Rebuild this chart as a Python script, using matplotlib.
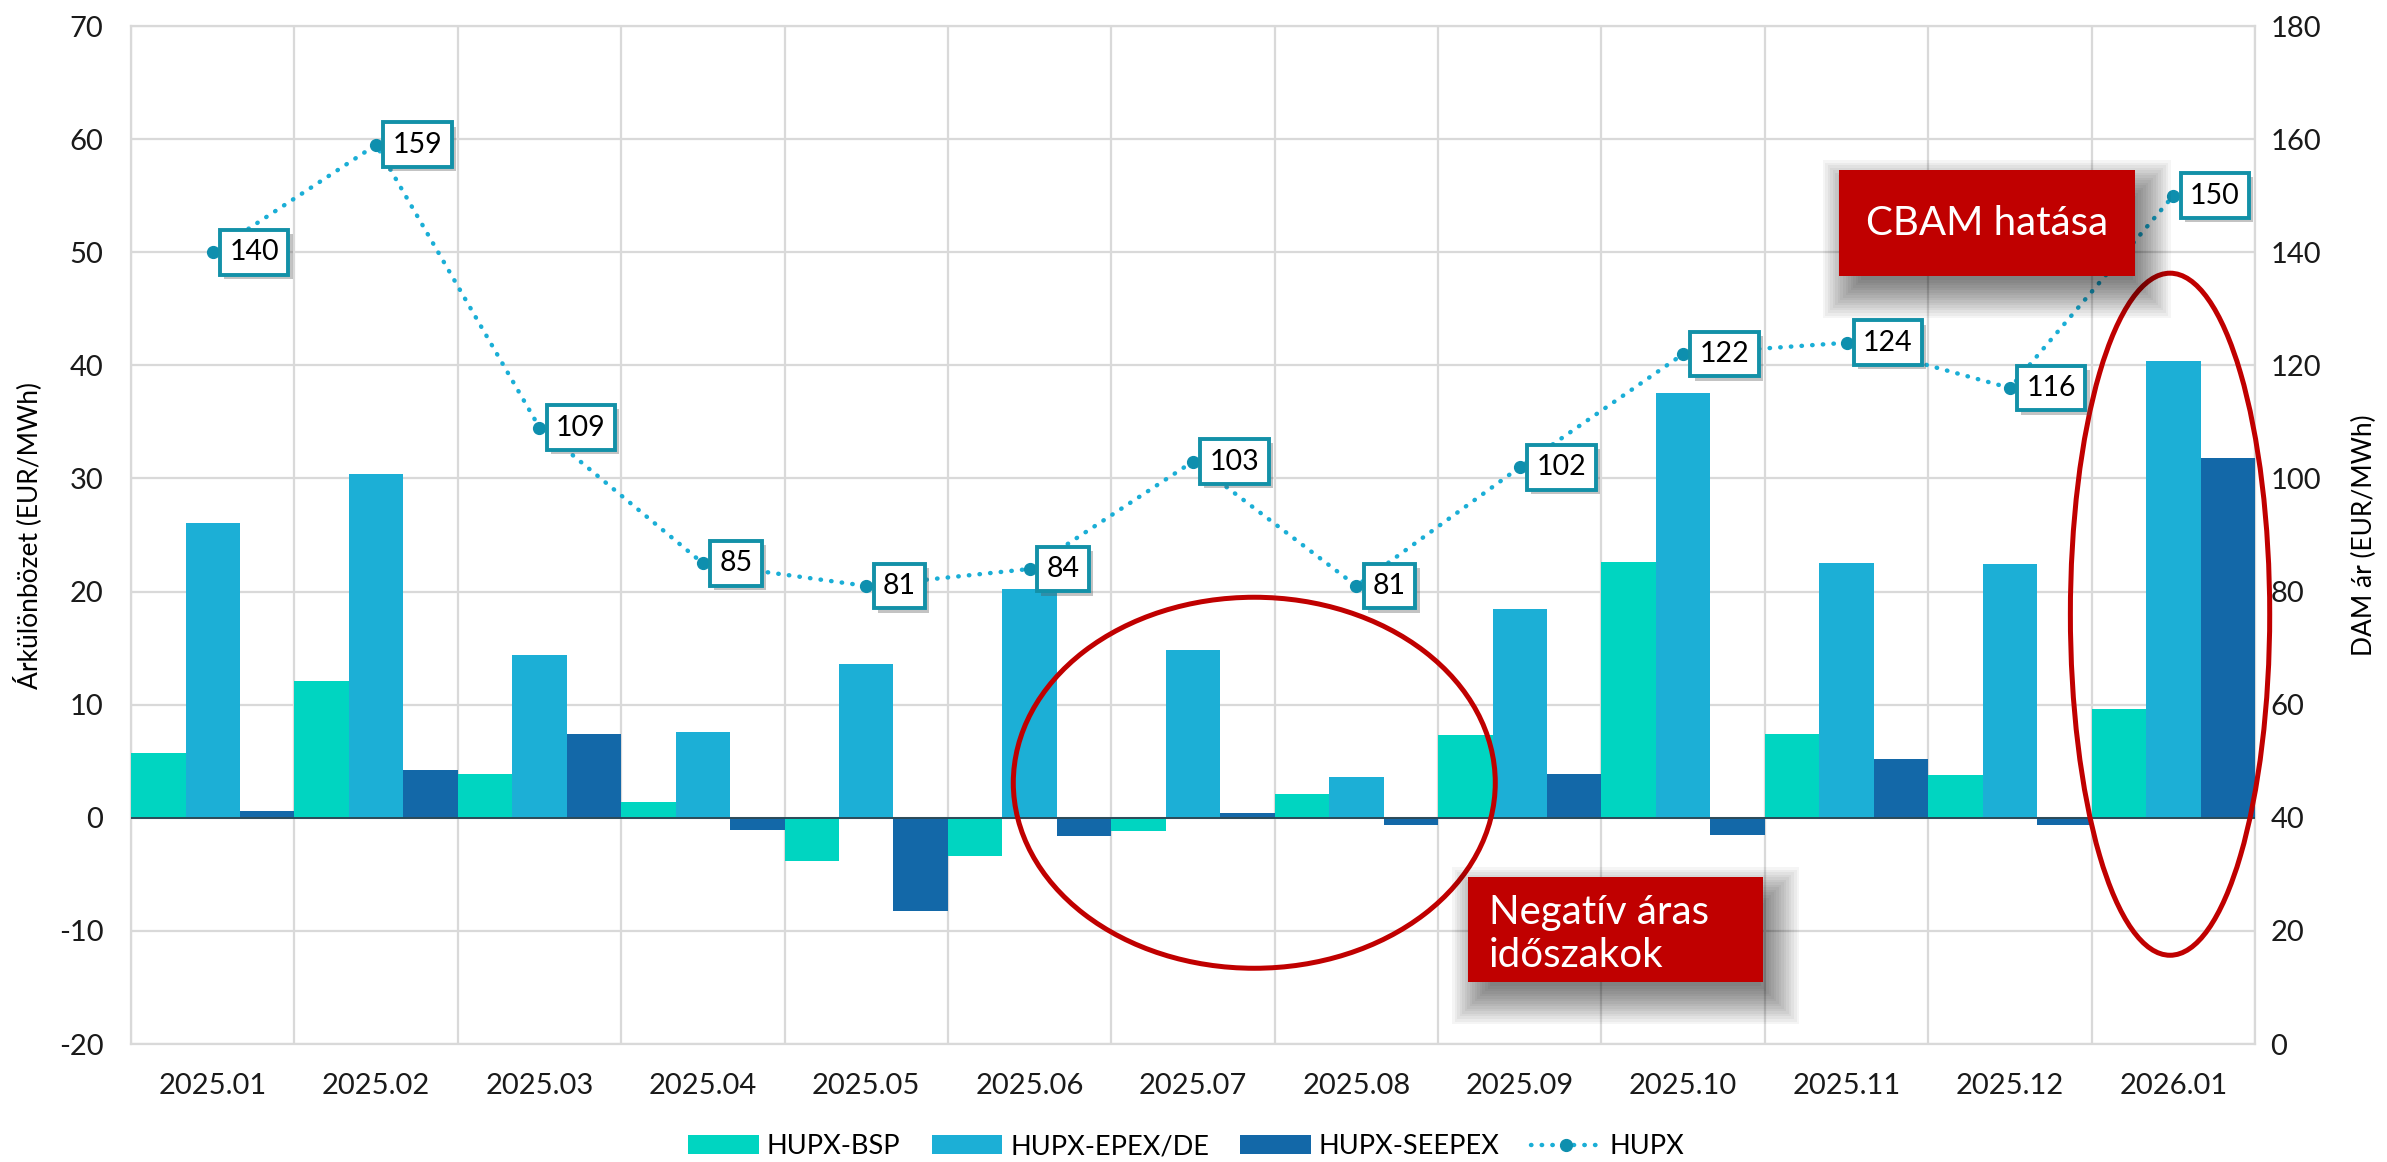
import numpy as np
import matplotlib.pyplot as plt
from matplotlib.patches import Ellipse, Rectangle
import matplotlib.patheffects as pe

plt.rcParams['font.family'] = ['Lato', 'DejaVu Sans']
plt.rcParams['axes.unicode_minus'] = False

# --- Data ---
months = ["2025.01", "2025.02", "2025.03", "2025.04", "2025.05", "2025.06", "2025.07",
          "2025.08", "2025.09", "2025.10", "2025.11", "2025.12", "2026.01"]
hupx_bsp = [5.7, 12.1, 3.9, 1.4, -3.8, -3.4, -1.2, 2.1, 7.3, 22.6, 7.4, 3.8, 9.6]
hupx_epex = [26.1, 30.4, 14.4, 7.6, 13.6, 20.2, 14.8, 3.6, 18.5, 37.6, 22.5, 22.4, 40.4]
hupx_seepex = [0.6, 4.2, 7.4, -1.1, -8.2, -1.6, 0.4, -0.6, 3.9, -1.5, 5.2, -0.6, 31.8]
hupx_dam = [140, 159, 109, 85, 81, 84, 103, 81, 102, 122, 124, 116, 150]

# --- Styles ---
c_bsp = '#00d5c1'
c_epex = '#1cafd6'
c_seepex = '#1368a8'
c_line = '#1aaed6'
c_marker = '#0e8fae'
c_box = '#1391a8'
c_red = '#c00000'
grid_c = '#d9d9d9'

fig = plt.figure(figsize=(23.87, 11.62), dpi=100)
ax = fig.add_axes([0.0549, 0.1015, 0.8898, 0.8761])
x = np.arange(len(months))
w = 1 / 3

ax.bar(x - w, hupx_bsp, w, color=c_bsp, label='HUPX-BSP', zorder=3)
ax.bar(x, hupx_epex, w, color=c_epex, label='HUPX-EPEX/DE', zorder=3)
ax.bar(x + w, hupx_seepex, w, color=c_seepex, label='HUPX-SEEPEX', zorder=3)
ax.axhline(0, color='#2b4a58', lw=1.4, zorder=4)

ax.set_xlim(-0.5, len(months) - 0.5)
ax.set_ylim(-20, 70)
ax.set_yticks(range(-20, 71, 10))
ax.set_xticks(x)
ax.set_xticklabels(months)
ax.set_xticks(np.arange(-0.5, len(months)), minor=True)
ax.grid(True, which='minor', axis='x', color=grid_c, lw=1.6, zorder=0)
ax.grid(True, which='major', axis='y', color=grid_c, lw=1.6, zorder=0)
ax.tick_params(axis='both', which='both', length=0, labelsize=21, colors='#1a1a1a')
ax.tick_params(axis='y', pad=20)
ax.tick_params(axis='x', pad=21)
for s in ax.spines.values():
    s.set_color(grid_c)
    s.set_linewidth(1.6)
ax.set_ylabel('Árkülönbözet (EUR/MWh)', fontsize=19, labelpad=12)

# --- Right axis: HUPX price ---
ax2 = ax.twinx()
ax2.set_ylim(0, 180)
ax2.set_yticks(range(0, 181, 20))
ax2.tick_params(axis='y', length=0, labelsize=21, colors='#1a1a1a', pad=11)
for s in ax2.spines.values():
    s.set_visible(False)
ax2.set_ylabel('DAM ár (EUR/MWh)', fontsize=19, labelpad=22)

line, = ax2.plot(x, hupx_dam, color=c_line, lw=3.2, linestyle=(0, (0.1, 2.3)),
                 dash_capstyle='round', marker='o', markersize=8.5,
                 markerfacecolor=c_marker, markeredgecolor=c_marker,
                 label='HUPX', zorder=5)

for xi, v in zip(x, hupx_dam):
    t = ax2.annotate(f'{v}', (xi, v), xytext=(12, 0), textcoords='offset points',
                     ha='left', va='center', fontsize=20.5, color='black', zorder=8,
                     bbox=dict(boxstyle='square,pad=0.33', fc='white', ec=c_box, lw=2.8))
    t.get_bbox_patch().set_path_effects([
        pe.SimplePatchShadow(offset=(3, -3), shadow_rgbFace='#555555', alpha=0.35),
        pe.Normal()])

# --- Highlight ellipses ---
ax2.add_patch(Ellipse((6.375, 3.1), 2.95, 32.8, transform=ax.transData, fill=False,
                      ec=c_red, lw=3.6, zorder=6, clip_on=False))
ax2.add_patch(Ellipse((11.98, 18.0), 1.22, 60.3, transform=ax.transData, fill=False,
                      ec=c_red, lw=3.6, zorder=6, clip_on=False))

# --- Red callout boxes with soft shadow ---
axw, axh = 2124.0, 1018.0  # axes size in px


def callout(x0, y0, x1, y1, zbase):
    dx, dy = 10 / axw, -16 / axh
    for e in np.linspace(-12, 26, 16):
        ex, ey = e / axw, e / axh
        ax2.add_patch(Rectangle((x0 + dx - ex, y0 + dy - ey), (x1 - x0) + 2 * ex,
                                (y1 - y0) + 2 * ey, transform=ax2.transAxes,
                                fc='black', ec='none', alpha=0.04, zorder=zbase,
                                clip_on=False))
    ax2.add_patch(Rectangle((x0, y0), x1 - x0, y1 - y0, transform=ax2.transAxes,
                            fc=c_red, ec='none', zorder=zbase + 0.1, clip_on=False))


callout(0.804, 0.7544, 0.9435, 0.8585, 9)
ax2.text((0.804 + 0.9435) / 2, (0.7544 + 0.8585) / 2, 'CBAM hatása', transform=ax2.transAxes,
         ha='center', va='center', fontsize=29, color='white', zorder=9.5)

callout(0.6295, 0.0609, 0.7684, 0.164, 9)
ax2.text(0.6394, (0.0609 + 0.164) / 2 - 0.004, 'Negatív áras\nidőszakok', transform=ax2.transAxes,
         ha='left', va='center', fontsize=29, color='white', zorder=9.5, linespacing=1.2)

# --- Legend ---
handles = ax.get_legend_handles_labels()[0] + [line]
fig.legend(handles=handles, labels=['HUPX-BSP', 'HUPX-EPEX/DE', 'HUPX-SEEPEX', 'HUPX'],
           loc='center', bbox_to_anchor=(0.497, 0.013), ncol=4, frameon=False,
           fontsize=19.5, handlelength=2.6, handleheight=0.7, columnspacing=1.15,
           handletextpad=0.3)

fig.savefig('out.png', dpi=100)
